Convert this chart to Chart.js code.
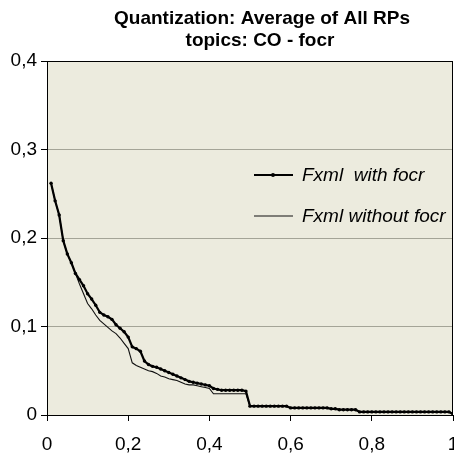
<!DOCTYPE html>
<html>
<head>
<meta charset="utf-8">
<title>Quantization: Average of All RPs</title>
<script src="https://cdn.jsdelivr.net/npm/chart.js@4.4.0/dist/chart.umd.min.js"></script>
<style>
  body { margin: 0; background: #fff; }
  canvas { display: block; }
</style>
</head>
<body>
<canvas id="quantChart" width="454" height="455"></canvas>
<script>
// Chart data
const titleLines = ["Quantization: Average of All RPs", "topics: CO - focr"]
const seriesNames = ["Fxml  with focr", "Fxml without focr"]
const xTicks = [0, 0.2, 0.4, 0.6, 0.8, 1]
const yTicks = [0, 0.1, 0.2, 0.3, 0.4]

const recall = [
  0.01, 0.02, 0.03, 0.04, 0.05, 0.06, 0.07, 0.08, 0.09, 0.10,
  0.11, 0.12, 0.13, 0.14, 0.15, 0.16, 0.17, 0.18, 0.19, 0.20,
  0.21, 0.22, 0.23, 0.24, 0.25, 0.26, 0.27, 0.28, 0.29, 0.30,
  0.31, 0.32, 0.33, 0.34, 0.35, 0.36, 0.37, 0.38, 0.39, 0.40,
  0.41, 0.42, 0.43, 0.44, 0.45, 0.46, 0.47, 0.48, 0.49, 0.50,
  0.51, 0.52, 0.53, 0.54, 0.55, 0.56, 0.57, 0.58, 0.59, 0.60,
  0.61, 0.62, 0.63, 0.64, 0.65, 0.66, 0.67, 0.68, 0.69, 0.70,
  0.71, 0.72, 0.73, 0.74, 0.75, 0.76, 0.77, 0.78, 0.79, 0.80,
  0.81, 0.82, 0.83, 0.84, 0.85, 0.86, 0.87, 0.88, 0.89, 0.90,
  0.91, 0.92, 0.93, 0.94, 0.95, 0.96, 0.97, 0.98, 0.99, 1.00,
]

const withFocr = [
  0.262, 0.242, 0.226, 0.197, 0.182, 0.172, 0.160, 0.153, 0.146, 0.137,
  0.131, 0.124, 0.116, 0.113, 0.111, 0.108, 0.102, 0.098, 0.094, 0.088,
  0.077, 0.075, 0.072, 0.061, 0.057, 0.055, 0.054, 0.052, 0.050, 0.048,
  0.046, 0.044, 0.042, 0.040, 0.038, 0.037, 0.036, 0.035, 0.034, 0.033,
  0.030, 0.029, 0.028, 0.028, 0.028, 0.028, 0.028, 0.028, 0.027, 0.010,
  0.010, 0.010, 0.010, 0.010, 0.010, 0.010, 0.010, 0.010, 0.010, 0.008,
  0.008, 0.008, 0.008, 0.008, 0.008, 0.008, 0.008, 0.008, 0.008, 0.007,
  0.007, 0.006, 0.006, 0.006, 0.006, 0.006, 0.0035, 0.0035, 0.0035, 0.0035,
  0.0035, 0.0035, 0.0035, 0.0035, 0.0035, 0.0035, 0.0035, 0.0035, 0.0035, 0.0035,
  0.0035, 0.0035, 0.0035, 0.0035, 0.0035, 0.0035, 0.0035, 0.0035, 0.0035, 0.001,
]

const withoutFocr = [
  0.262, 0.242, 0.226, 0.197, 0.182, 0.172, 0.160, 0.148, 0.137, 0.126,
  0.120, 0.113, 0.107, 0.103, 0.099, 0.095, 0.092, 0.087, 0.081, 0.075,
  0.059, 0.056, 0.054, 0.052, 0.050, 0.049, 0.047, 0.044, 0.043, 0.041,
  0.040, 0.039, 0.037, 0.035, 0.034, 0.034, 0.033, 0.032, 0.031, 0.030,
  0.024, 0.024, 0.024, 0.024, 0.024, 0.024, 0.024, 0.024, 0.024, 0.010,
  0.010, 0.010, 0.010, 0.010, 0.010, 0.010, 0.010, 0.010, 0.010, 0.008,
  0.008, 0.008, 0.008, 0.008, 0.008, 0.008, 0.008, 0.008, 0.008, 0.007,
  0.007, 0.006, 0.006, 0.006, 0.006, 0.006, 0.0035, 0.0035, 0.0035, 0.0035,
  0.0035, 0.0035, 0.0035, 0.0035, 0.0035, 0.0035, 0.0035, 0.0035, 0.0035, 0.0035,
  0.0035, 0.0035, 0.0035, 0.0035, 0.0035, 0.0035, 0.0035, 0.0035, 0.0035, 0.001,
]

const FONT = "'Liberation Sans', Arial, sans-serif"
const PLOT_BG = "#ecebde"
const GRID = "#a4a497"
const NO_PAD = { left: 0, top: 0, right: 0, bottom: 0 }

function toPoints(xs, ys) {
  return xs.map((x, i) => ({ x: x, y: ys[i] }))
}

function commaLabel(value) {
  const v = Math.round(value * 10) / 10
  return String(v).replace(".", ",")
}

// beige plot area + black frame
const plotFrame = {
  id: "plotFrame",
  beforeDraw(chart) {
    const { ctx, chartArea: a } = chart
    ctx.save()
    ctx.fillStyle = PLOT_BG
    ctx.fillRect(a.left, a.top, a.right - a.left, a.bottom - a.top)
    ctx.restore()
  },
  afterDraw(chart) {
    const { ctx, chartArea: a } = chart
    ctx.save()
    ctx.strokeStyle = "#000"
    ctx.lineWidth = 1
    ctx.strokeRect(a.left + 0.5, a.top + 0.5, a.right - a.left - 1, a.bottom - a.top)
    ctx.restore()
  },
}

// two-line bold title above the plot
const titleText = {
  id: "titleText",
  afterDraw(chart) {
    const ctx = chart.ctx
    ctx.save()
    ctx.fillStyle = "#000"
    ctx.font = "bold 19px " + FONT
    ctx.textAlign = "center"
    ctx.textBaseline = "alphabetic"
    ctx.fillText(titleLines[0], 262, 24)
    ctx.fillText(titleLines[1], 260, 46)
    ctx.restore()
  },
}

// legend sitting inside the plot area, right side
const innerLegend = {
  id: "innerLegend",
  afterDatasetsDraw(chart) {
    const ctx = chart.ctx
    const rows = [175, 216]
    ctx.save()
    chart.data.datasets.forEach((ds, i) => {
      const y = rows[i]
      ctx.strokeStyle = ds.borderColor
      ctx.lineWidth = ds.borderWidth
      ctx.beginPath()
      ctx.moveTo(254, y)
      ctx.lineTo(293, y)
      ctx.stroke()
      if (ds.pointRadius > 0) {
        ctx.fillStyle = ds.pointBackgroundColor
        ctx.beginPath()
        ctx.arc(273, y, ds.pointRadius + 0.3, 0, Math.PI * 2)
        ctx.fill()
      }
      ctx.fillStyle = "#000"
      ctx.font = "italic 19px " + FONT
      ctx.textAlign = "left"
      ctx.textBaseline = "middle"
      ctx.fillText(ds.label, 302, y + 1)
    })
    ctx.restore()
  },
}

const ctx = document.getElementById("quantChart").getContext("2d")
new Chart(ctx, {
  type: "line",
  data: {
    datasets: [
      {
        label: seriesNames[0],
        data: toPoints(recall, withFocr),
        borderColor: "#000",
        borderWidth: 2.2,
        pointRadius: 1.7,
        pointBackgroundColor: "#000",
        pointBorderWidth: 0,
        tension: 0,
      },
      {
        label: seriesNames[1],
        data: toPoints(recall, withoutFocr),
        borderColor: "#111",
        borderWidth: 1.1,
        pointRadius: 0,
        tension: 0,
      },
    ],
  },
  options: {
    responsive: false,
    animation: false,
    layout: { autoPadding: false, padding: { top: 61, right: 1, left: 0, bottom: 0 } },
    plugins: {
      legend: { display: false },
      title: { display: false },
      tooltip: { enabled: false },
    },
    scales: {
      x: {
        type: "linear",
        min: 0,
        max: 1,
        afterBuildTicks(scale) {
          scale.ticks = xTicks.map((v) => ({ value: v }))
        },
        afterFit(scale) {
          scale.height = 40
          scale.paddingLeft = 0
          scale.paddingRight = 0
          scale.getPadding = () => NO_PAD
        },
        ticks: {
          color: "#000",
          font: { family: FONT, size: 19 },
          padding: 12,
          maxRotation: 0,
          callback: commaLabel,
        },
        grid: {
          drawOnChartArea: false,
          drawTicks: true,
          tickLength: 6,
          tickColor: "#000",
        },
        border: { display: true, color: "#000", width: 1 },
      },
      y: {
        type: "linear",
        min: 0,
        max: 0.4,
        afterBuildTicks(scale) {
          scale.ticks = yTicks.map((v) => ({ value: v }))
        },
        afterFit(scale) {
          scale.width = 47
          scale.paddingTop = 0
          scale.paddingBottom = 0
          scale.getPadding = () => NO_PAD
        },
        ticks: {
          color: "#000",
          font: { family: FONT, size: 19 },
          padding: 4,
          callback: commaLabel,
        },
        grid: {
          color: (c) => (c.tick && c.tick.value > 0 && c.tick.value < 0.4 ? GRID : "rgba(0,0,0,0)"),
          lineWidth: 1,
          drawTicks: true,
          tickLength: 6,
          tickColor: "#000",
        },
        border: { display: true, color: "#000", width: 1 },
      },
    },
  },
  plugins: [plotFrame, titleText, innerLegend],
})
</script>
</body>
</html>
